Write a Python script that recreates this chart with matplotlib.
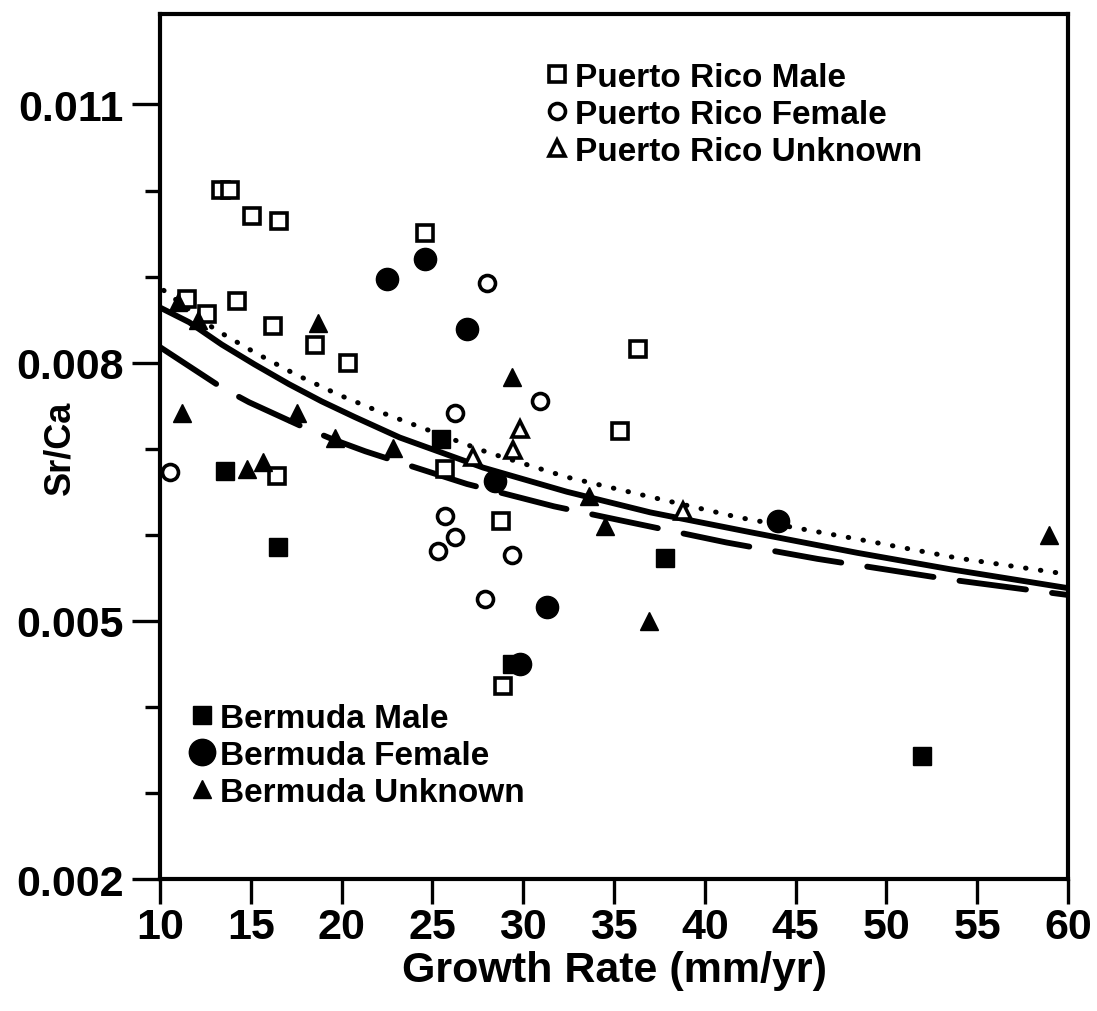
"""Sr/Ca against growth rate, Puerto Rico and Bermuda samples with three fitted curves."""

import matplotlib

matplotlib.use("Agg")
import matplotlib.pyplot as plt
from matplotlib.lines import Line2D

plt.rcParams["font.family"] = ["Liberation Sans", "DejaVu Sans"]
plt.rcParams["font.weight"] = "bold"

# --- data ---------------------------------------------------------------------
pr_male_x = [13.35, 13.85, 15.07, 16.55, 11.47, 12.57, 14.22, 16.24, 18.54, 20.37,
             24.6, 36.3, 35.33, 28.8, 25.7, 16.43, 28.9]
pr_male_y = [0.01001, 0.01001, 0.00970, 0.00965, 0.00874, 0.00856, 0.00872, 0.00843,
             0.00821, 0.00800, 0.00951, 0.00816, 0.00720, 0.00616, 0.00676, 0.00668,
             0.00424]

pr_female_x = [10.55, 28.0, 26.24, 30.93, 25.7, 26.24, 25.33, 29.36, 27.9]
pr_female_y = [0.00673, 0.00893, 0.00742, 0.00755, 0.00622, 0.00597, 0.00581,
               0.00577, 0.00525]

pr_unknown_x = [29.82, 29.45, 27.25, 38.8]
pr_unknown_y = [0.00723, 0.00699, 0.00690, 0.00628]

bm_male_x = [13.58, 16.5, 37.8, 51.96, 25.45, 29.4]
bm_male_y = [0.00674, 0.00586, 0.00573, 0.00343, 0.00711, 0.00450]

bm_female_x = [22.5, 24.6, 26.9, 28.45, 31.3, 29.8, 44.05]
bm_female_y = [0.00897, 0.00920, 0.00839, 0.00662, 0.00516, 0.00450, 0.00616]

bm_unknown_x = [11.19, 18.72, 17.53, 14.77, 15.69, 19.64, 22.85, 29.4, 33.6, 34.5,
                36.9, 58.95, 11.0, 12.1]
bm_unknown_y = [0.00742, 0.00846, 0.00742, 0.00676, 0.00684, 0.00713, 0.00701,
                0.00783, 0.00645, 0.00610, 0.00500, 0.00600, 0.00871, 0.00850]

# fitted curves, sampled along the drawn lines
solid_x = [10, 11.6, 13.4, 15.2, 17.1, 18.9, 20.7, 23.2, 27.8, 32.4, 37.0, 42.5, 48.4, 53.5, 60]
solid_y = [0.00864, 0.00847, 0.00821, 0.00798, 0.00775, 0.00755, 0.00737, 0.00713,
           0.00678, 0.00650, 0.00626, 0.00603, 0.00579, 0.00560, 0.00538]

dotted_x = [10.2, 13.0, 15.2, 17.4, 19.8, 22.2, 28.0, 32.4, 36.8, 41.9, 48.4, 53.9, 60]
dotted_y = [0.00884, 0.00839, 0.00812, 0.00787, 0.00763, 0.00742, 0.00696, 0.00667,
            0.00645, 0.00620, 0.00595, 0.00573, 0.00554]

dashed_x = [10, 13.4, 14.9, 17.8, 19.5, 21.3, 23.2, 26.9, 31.7, 35.3, 41.2, 46.2, 53.5, 60]
dashed_y = [0.00818, 0.00771, 0.00754, 0.00726, 0.00711, 0.00697, 0.00684, 0.00659,
            0.00633, 0.00617, 0.00591, 0.00572, 0.00548, 0.00530]

x_ticks = [10, 15, 20, 25, 30, 35, 40, 45, 50, 55, 60]
y_major = [0.002, 0.005, 0.008, 0.011]
y_major_labels = ["0.002", "0.005", "0.008", "0.011"]
y_minor = [0.003, 0.004, 0.006, 0.007, 0.009, 0.010]

pr_labels = ["Puerto Rico Male", "Puerto Rico Female", "Puerto Rico Unknown"]
bm_labels = ["Bermuda Male", "Bermuda Female", "Bermuda Unknown"]

# --- figure -------------------------------------------------------------------
fig = plt.figure(figsize=(10.97, 10.12), dpi=100)
ax = fig.add_axes([0.1459, 0.1304, 0.8277, 0.8547])

ax.plot(solid_x, solid_y, color="black", lw=4.2, solid_capstyle="round", zorder=2)
ax.plot(dotted_x, dotted_y, color="black", lw=3.6, linestyle=(0, (0.1, 2.9)),
        dash_capstyle="round", zorder=2)
ax.plot(dashed_x, dashed_y, color="black", lw=4.2, linestyle=(0, (11.5, 4.5)),
        dash_capstyle="round", zorder=2)

open_kw = dict(linestyle="none", markerfacecolor="white", markeredgecolor="black",
               markeredgewidth=2.6, zorder=3)
filled_kw = dict(linestyle="none", color="black", zorder=3)

ax.plot(pr_male_x, pr_male_y, marker="s", markersize=11.5, **open_kw)
ax.plot(pr_female_x, pr_female_y, marker="o", markersize=11.5, **open_kw)
ax.plot(pr_unknown_x, pr_unknown_y, marker="^", markersize=11.5, **open_kw)
ax.plot(bm_male_x, bm_male_y, marker="s", markersize=12.5, **filled_kw)
ax.plot(bm_female_x, bm_female_y, marker="o", markersize=16, **filled_kw)
ax.plot(bm_unknown_x, bm_unknown_y, marker="^", markersize=12.5, **filled_kw)

ax.set_xlim(10, 60)
ax.set_ylim(0.002, 0.01205)
ax.set_xticks(x_ticks)
ax.set_xticklabels([str(v) for v in x_ticks])
ax.set_yticks(y_major)
ax.set_yticklabels(y_major_labels)
ax.set_yticks(y_minor, minor=True)

for side in ax.spines.values():
    side.set_linewidth(3)
ax.tick_params(axis="both", which="major", direction="out", width=2.4, labelsize=31)
ax.tick_params(axis="y", which="major", length=20, pad=6)
ax.tick_params(axis="y", which="minor", direction="out", length=11, width=2.4)
ax.tick_params(axis="x", which="major", length=18, pad=2)
for lab in ax.get_xticklabels() + ax.get_yticklabels():
    lab.set_fontweight("bold")

fig.text(614 / 1097, 1 - 982 / 1012, "Growth Rate (mm/yr)", ha="center", va="baseline",
         fontsize=31, fontweight="bold")
fig.text(60 / 1097, 1 - 448 / 1012, "Sr/Ca", ha="center", va="center", rotation=90,
         fontsize=26, fontweight="bold")

# legends
pr_handles = [
    Line2D([], [], marker="s", markersize=11.5, **open_kw),
    Line2D([], [], marker="o", markersize=11.5, **open_kw),
    Line2D([], [], marker="^", markersize=11.5, **open_kw),
]
bm_handles = [
    Line2D([], [], marker="s", markersize=13.5, **filled_kw),
    Line2D([], [], marker="o", markersize=19, **filled_kw),
    Line2D([], [], marker="^", markersize=13.5, **filled_kw),
]
leg_kw = dict(frameon=False, handlelength=0.7, handletextpad=0.2, labelspacing=0.18,
              borderpad=0, borderaxespad=0, prop={"size": 24, "weight": "bold"})
pr_leg = ax.legend(pr_handles, pr_labels, loc="upper left",
                   bbox_to_anchor=(545 / 1097, 1 - 63 / 1012),
                   bbox_transform=fig.transFigure, **leg_kw)
ax.add_artist(pr_leg)
ax.legend(bm_handles, bm_labels, loc="upper left",
          bbox_to_anchor=(190 / 1097, 1 - 704 / 1012),
          bbox_transform=fig.transFigure, **leg_kw)

fig.savefig("out.png", dpi=100)
